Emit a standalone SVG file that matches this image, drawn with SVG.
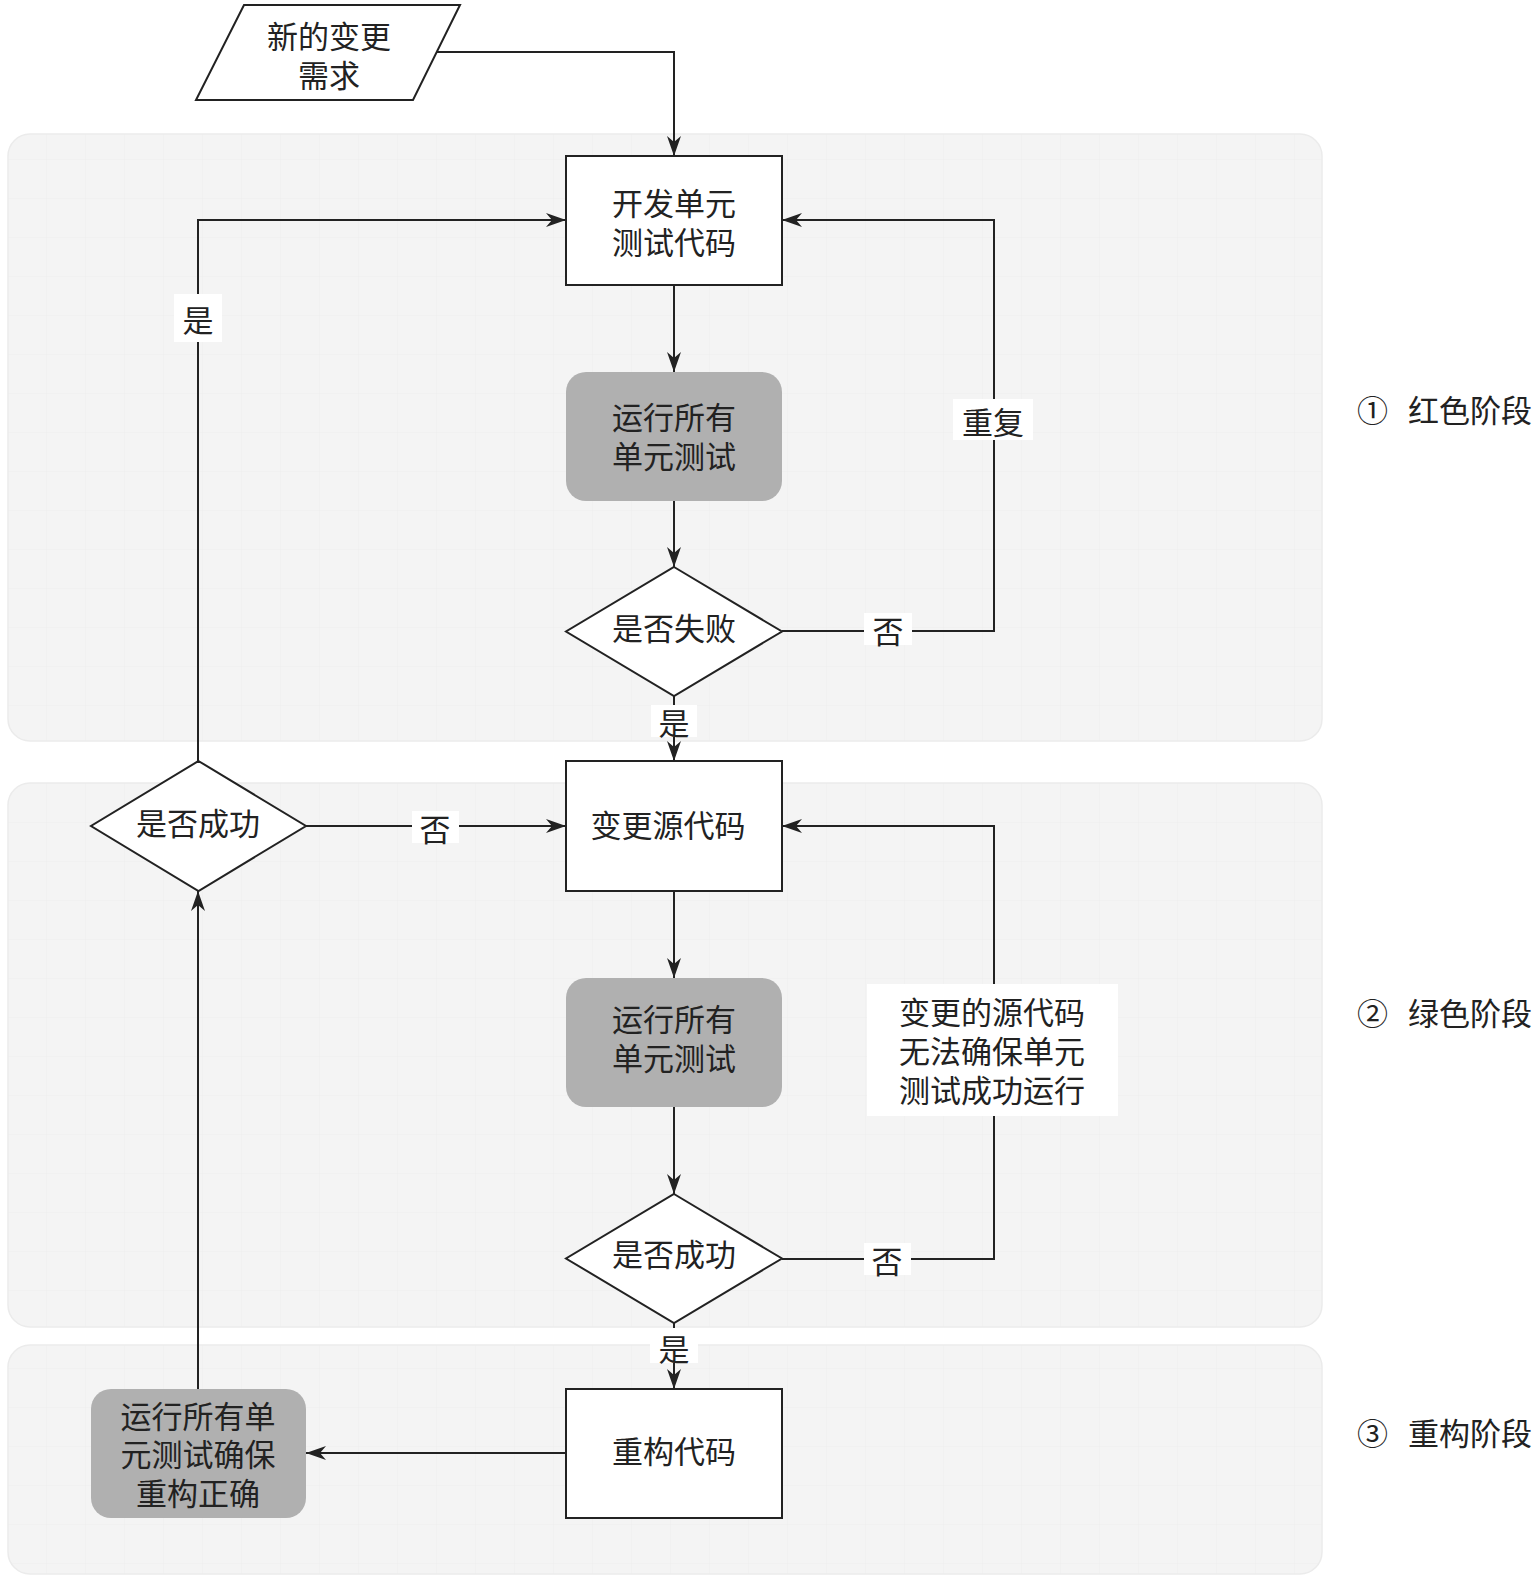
<svg xmlns="http://www.w3.org/2000/svg" width="1535" height="1580" viewBox="0 0 1535 1580">
<style>
text{font-family:"Noto Sans CJK SC","Liberation Sans",sans-serif;font-size:31px;fill:#222;text-anchor:middle;dominant-baseline:central}
.panel{fill:url(#grid);stroke:#ebebeb;stroke-width:1.5}
.box{fill:#fff;stroke:#222;stroke-width:2}
.gray{fill:#b0b0b0;stroke:none}
.edge{fill:none;stroke:#222;stroke-width:2}
.lbl{fill:#fff;stroke:none}
.phase{text-anchor:start}
</style>
<defs>
<pattern id="grid" width="39" height="39" patternUnits="userSpaceOnUse" x="8" y="4">
<rect width="39" height="39" fill="#f4f4f4"/>
<path d="M39 0V39M0 39H39" fill="none" stroke="#eeeeee" stroke-width="1"/>
</pattern>
<marker id="arr" markerUnits="userSpaceOnUse" markerWidth="20" markerHeight="14" refX="20" refY="7" orient="auto">
<path d="M0,0 L20,7 L0,14 L6,7 z" fill="#222"/>
</marker>
</defs>

<g id="panels">
<rect id="panel-red" class="panel" x="8" y="134" width="1314" height="607" rx="22"/>
<rect id="panel-green" class="panel" x="8" y="783" width="1314" height="544" rx="22"/>
<rect id="panel-refactor" class="panel" x="8" y="1345" width="1314" height="229" rx="22"/>
</g>

<g id="connectors">
<path class="edge" d="M437 52H674V156" marker-end="url(#arr)"/>
<path class="edge" d="M674 285V372" marker-end="url(#arr)"/>
<path class="edge" d="M674 501V567" marker-end="url(#arr)"/>
<path class="edge" d="M674 696V761" marker-end="url(#arr)"/>
<path class="edge" d="M782 631H994V220H782" marker-end="url(#arr)"/>
<path class="edge" d="M674 891V978" marker-end="url(#arr)"/>
<path class="edge" d="M674 1107V1194" marker-end="url(#arr)"/>
<path class="edge" d="M782 1259H994V826H782" marker-end="url(#arr)"/>
<path class="edge" d="M674 1323V1389" marker-end="url(#arr)"/>
<path class="edge" d="M566 1453H306" marker-end="url(#arr)"/>
<path class="edge" d="M198 1389V891" marker-end="url(#arr)"/>
<path class="edge" d="M198 761V220H566" marker-end="url(#arr)"/>
<path class="edge" d="M306 826H566" marker-end="url(#arr)"/>

<g id="lbl-yes1"><rect class="lbl" x="651" y="705" width="46" height="32"/><text x="674" y="721">是</text></g>
<g id="lbl-no1"><rect class="lbl" x="864" y="613" width="48" height="32"/><text x="888" y="629">否</text></g>
<g id="lbl-repeat"><rect class="lbl" x="953" y="399" width="80" height="41"/><text x="993" y="420">重复</text></g>
<g id="lbl-no2"><rect class="lbl" x="864" y="1243" width="47" height="32"/><text x="887" y="1259">否</text></g>
<g id="lbl-fail"><rect class="lbl" x="867" y="984" width="251" height="132"/>
<text x="992" y="1010">变更的源代码<tspan x="992" y="1049">无法确保单元</tspan><tspan x="992" y="1088">测试成功运行</tspan></text></g>
<g id="lbl-yes2"><rect class="lbl" x="650" y="1328" width="48" height="35"/><text x="674" y="1347">是</text></g>
<g id="lbl-yes3"><rect class="lbl" x="174" y="294" width="48" height="48"/><text x="198" y="318">是</text></g>
<g id="lbl-no3"><rect class="lbl" x="412" y="811" width="47" height="32"/><text x="435" y="827">否</text></g>
</g>

<g id="n-request"><polygon class="box" points="244,5 460,5 413,100 196,100"/><text x="329" y="34">新的变更<tspan x="329" y="73">需求</tspan></text></g>
<g id="n-devtest"><rect class="box" x="566" y="156" width="216" height="129"/><text x="674" y="201">开发单元<tspan x="674" y="240">测试代码</tspan></text></g>
<g id="n-run1"><rect class="gray" x="566" y="372" width="216" height="129" rx="20"/><text x="674" y="415">运行所有<tspan x="674" y="454">单元测试</tspan></text></g>
<g id="n-fail"><polygon class="box" points="674,567 782,631.5 674,696 566,631.5"/><text x="674" y="626">是否失败</text></g>
<g id="n-change"><rect class="box" x="566" y="761" width="216" height="130"/><text x="668" y="823">变更源代码</text></g>
<g id="n-success1"><polygon class="box" points="198.5,761 306,826 198.5,891 91,826"/><text x="198" y="821">是否成功</text></g>
<g id="n-run2"><rect class="gray" x="566" y="978" width="216" height="129" rx="20"/><text x="674" y="1017">运行所有<tspan x="674" y="1056">单元测试</tspan></text></g>
<g id="n-success2"><polygon class="box" points="674,1194 782,1258.5 674,1323 566,1258.5"/><text x="674" y="1252">是否成功</text></g>
<g id="n-refactor"><rect class="box" x="566" y="1389" width="216" height="129"/><text x="674" y="1449">重构代码</text></g>
<g id="n-run3"><rect class="gray" x="91" y="1389" width="215" height="129" rx="20"/><text x="198" y="1414">运行所有单<tspan x="198" y="1452">元测试确保</tspan><tspan x="198" y="1491">重构正确</tspan></text></g>

<g id="phases">
<text class="phase" x="1357" y="408">①<tspan x="1408">红色阶段</tspan></text>
<text class="phase" x="1357" y="1011">②<tspan x="1408">绿色阶段</tspan></text>
<text class="phase" x="1357" y="1431">③<tspan x="1408">重构阶段</tspan></text>
</g>
</svg>
